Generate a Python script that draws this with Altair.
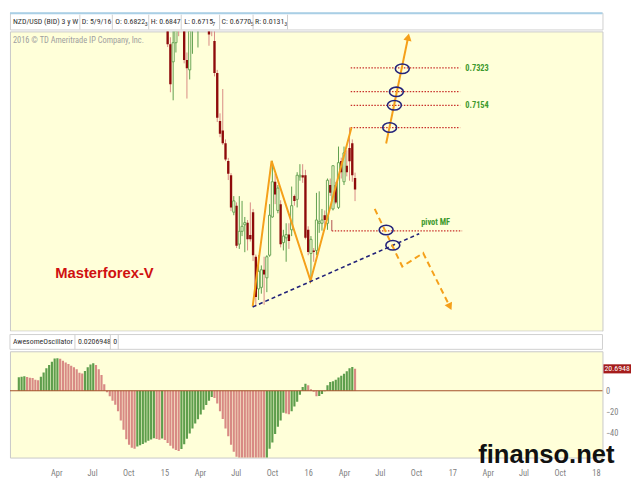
import altair as alt
import pandas as pd

# ---------------- data ----------------
HEADER_CELLS = ["NZD/USD (BID) 3 y W", "D: 5/9/16", "O: 0.6822", "H: 0.6847", "L: 0.6715", "C: 0.6770", "R: 0.0131"]
HEADER_SUBS = ["", "", "3", "", "7", "5", "3"]
OSC_CELLS = ["AwesomeOscillator", "0.0206948", "0"]

CANDLE_START = "2015-01-05"
OPEN = [0.783, 0.776, 0.775, 0.7438, 0.7357, 0.7445, 0.7560, 0.7520, 0.7600, 0.7365,
        0.7320, 0.7520, 0.7600, 0.7550, 0.7650, 0.7580, 0.7680, 0.7600, 0.7560, 0.7453,
        0.7306, 0.7085, 0.7041, 0.6982, 0.6901, 0.6835, 0.6665, 0.6695, 0.6518, 0.6577,
        0.6607, 0.6617, 0.6560, 0.6665, 0.6460, 0.6312, 0.6319, 0.6400, 0.6363, 0.6467,
        0.6643, 0.6805, 0.6673, 0.6702, 0.6525, 0.6547, 0.6562, 0.6584, 0.6739, 0.6724,
        0.6828, 0.6835, 0.6835, 0.6584, 0.6475, 0.6489, 0.6489, 0.6614, 0.6614, 0.6651,
        0.6614, 0.6790, 0.6680, 0.6790, 0.6687, 0.6901, 0.6805, 0.6879, 0.6960, 0.6982,
        0.6822]
HIGH = [0.790, 0.785, 0.781, 0.7470, 0.7550, 0.7600, 0.7700, 0.7650, 0.7650, 0.7400,
        0.7570, 0.7650, 0.7660, 0.7700, 0.7700, 0.7750, 0.7720, 0.7630, 0.7600, 0.7520,
        0.7320, 0.7120, 0.7232, 0.7000, 0.6915, 0.6845, 0.6739, 0.6710, 0.6739, 0.6717,
        0.6643, 0.6629, 0.6710, 0.6680, 0.6470, 0.6467, 0.6420, 0.6460, 0.6467, 0.6702,
        0.6901, 0.6842, 0.6790, 0.6720, 0.6584, 0.6614, 0.6614, 0.6783, 0.6746, 0.6849,
        0.6886, 0.6886, 0.6860, 0.6600, 0.6555, 0.6500, 0.6754, 0.6761, 0.6680, 0.6673,
        0.6820, 0.6820, 0.6879, 0.6805, 0.6967, 0.6916, 0.6967, 0.6950, 0.7055, 0.7000,
        0.6847]
LOW = [0.770, 0.768, 0.7425, 0.7217, 0.7180, 0.7400, 0.7475, 0.7505, 0.7350, 0.7188,
       0.7276, 0.7394, 0.7510, 0.7423, 0.7520, 0.7540, 0.7530, 0.7431, 0.7475, 0.7290,
       0.7080, 0.7010, 0.6975, 0.6900, 0.6813, 0.6670, 0.6651, 0.6500, 0.6496, 0.6555,
       0.6481, 0.6489, 0.6530, 0.6440, 0.6231, 0.6261, 0.6290, 0.6239, 0.6297, 0.6460,
       0.6640, 0.6702, 0.6660, 0.6503, 0.6489, 0.6437, 0.6496, 0.6555, 0.6695, 0.6687,
       0.6810, 0.6800, 0.6540, 0.6467, 0.6349, 0.6437, 0.6467, 0.6570, 0.6580, 0.6600,
       0.6584, 0.6740, 0.6673, 0.6702, 0.6680, 0.6820, 0.6790, 0.6830, 0.6810, 0.6805,
       0.6716]
CLOSE = [0.776, 0.780, 0.7438, 0.7254, 0.7445, 0.7560, 0.7520, 0.7600, 0.7365, 0.7328,
         0.7520, 0.7600, 0.7550, 0.7650, 0.7580, 0.7680, 0.7600, 0.7483, 0.7510, 0.7306,
         0.7100, 0.7026, 0.6982, 0.6908, 0.6842, 0.6687, 0.6717, 0.6511, 0.6577, 0.6600,
         0.6617, 0.6540, 0.6540, 0.6467, 0.6275, 0.6393, 0.6400, 0.6378, 0.6460, 0.6651,
         0.6805, 0.6746, 0.6776, 0.6518, 0.6555, 0.6562, 0.6533, 0.6695, 0.6717, 0.6835,
         0.6835, 0.6825, 0.6547, 0.6482, 0.6540, 0.6482, 0.6629, 0.6621, 0.6629, 0.6629,
         0.6812, 0.6754, 0.6879, 0.6710, 0.6893, 0.6849, 0.6938, 0.6849, 0.6900, 0.6835,
         0.6770]

AO_START = "2014-01-06"
AO = [12.7, 13.3, 13.6, 13.1, 12.2, 12.0, 10.4, 9.8, 13.3, 17.2,
      21.3, 24.3, 27.3, 30.5, 30.8, 30.2, 28.4, 26.7, 25.2, 23.7,
      22.2, 20.2, 16.9, 16.3, 18.7, 22.2, 24.9, 26.0, 24.3, 20.4,
      14.8, 6.2, -1.5, -5.3, -9.5, -13.3, -19.3, -28.1, -37.0, -45.9,
      -51.0, -54.0, -54.8, -52.7, -51.6, -50.4, -48.9, -47.4, -46.2, -45.0,
      -45.6, -46.3, -45.2, -46.5, -49.5, -52.0, -54.5, -56.0, -57.0, -55.0,
      -50.5, -45.5, -40.5, -35.6, -31.0, -27.0, -22.5, -18.0, -13.5, -9.5,
      -6.0, -6.8, -12.0, -19.3, -26.7, -35.6, -43.0, -51.0, -57.8, -62.5,
      -65.0, -67.0, -68.0, -69.0, -69.5, -70.0, -70.5, -71.0, -71.5, -72.0,
      -66.0, -54.8, -48.9, -40.9, -34.1, -28.1, -20.7, -21.5, -22.2, -19.3,
      -14.8, -10.4, -3.9, 3.6, 6.5, 5.3, 1.5, -1.0, -5.3, -5.0,
      -3.0, -0.6, 5.3, 8.3, 8.9, 10.4, 12.4, 14.2, 16.0, 18.4,
      21.3, 22.5, 20.6948]

ZIGZAG_DATES = ["2015-08-23", "2015-10-10", "2016-01-17", "2016-04-30"]
ZIGZAG_PRICES = [0.6231, 0.6901, 0.6349, 0.7055]
TREND_DATES = ["2015-08-23", "2016-10-19"]
TREND_PRICES = [0.6229, 0.6566]
LEVEL_PRICES = [0.7329, 0.7220, 0.7157, 0.7054]
LEVEL_SPAN = ["2016-04-28", "2017-01-31"]
PIVOT_PRICE = 0.6579
PIVOT_SPAN = ["2016-03-11", "2017-02-05"]
PIVOT_STEM = [0.6629, 0.6579]
LABEL_TEXTS = ["0.7323", "0.7154", "pivot MF"]
LABEL_DATES = ["2017-02-13", "2017-02-13", "2016-10-24"]
LABEL_PRICES = [0.7329, 0.7157, 0.6619]
UP_DATES = ["2016-07-27", "2016-09-21"]
UP_PRICES = [0.6981, 0.7471]
DOWN_DATES = ["2016-06-28", "2016-09-06", "2016-10-29", "2017-01-05"]
DOWN_PRICES = [0.6680, 0.6415, 0.6477, 0.6230]
HEAD_DATES = ["2016-09-21", "2017-01-05"]
HEAD_PRICES = [0.7471, 0.6230]
HEAD_ANGLES = [11.9, 153.4]
RING_DATES = ["2016-09-06", "2016-08-22", "2016-08-17", "2016-08-05", "2016-07-27", "2016-08-13"]
RING_PRICES = [0.7325, 0.7219, 0.7157, 0.7055, 0.6583, 0.6513]

# ---------------- layout / style ----------------
W = 602
H_HDR = 17
H_MAIN = 304
H_OHDR = 18
H_OSC = 108
BG = "#FFFFD9"
FONT = "Liberation Sans Narrow, Arial Narrow, Roboto Condensed, Roboto"
HFS = 8
ORANGE = "#F5A01A"
NAVY = "#23237A"
RED_BODY = "#8E0B0B"
RED_WICK = "#D88A84"
GREEN = "#5E9E4C"
DOTRED = "#C8302A"
LABGREEN = "#3E9A2E"

# approximate Arial widths (em) for placing the small trailing digits of the header cells
AW = {"O": .778, "H": .722, "L": .556, "C": .722, "R": .722, "D": .722, ":": .278, " ": .278,
      ".": .278, "/": .278}
def text_w(s, size):
    return sum(AW.get(ch, .556) for ch in s) * 0.82 * size

XSCALE = alt.Scale(type="utc",
                   domain=[alt.DateTime(year=2013, month=12, date=27, utc=True),
                           alt.DateTime(year=2018, month=1, date=15, utc=True)])
YMAIN = alt.Scale(domain=[0.612, 0.7497], nice=False, zero=False)
YOSC = alt.Scale(domain=[-63.2, 37.3], nice=False, zero=False)

one = pd.DataFrame({"a": [0]})

candles = pd.DataFrame({
    "date": pd.date_range(CANDLE_START, periods=len(OPEN), freq="7D").strftime("%Y-%m-%d"),
    "open": OPEN, "high": HIGH, "low": LOW, "close": CLOSE,
})
candles["dir"] = ["up" if c >= o else "down" for o, c in zip(OPEN, CLOSE)]

ao = pd.DataFrame({
    "date": pd.date_range(AO_START, periods=len(AO), freq="7D").strftime("%Y-%m-%d"),
    "ao": AO,
})
ao["dir"] = ["up" if i == 0 or AO[i] >= AO[i - 1] else "down" for i in range(len(AO))]

Xn = lambda f: alt.X(f, type="temporal", scale=XSCALE, axis=None)

# ---------------- header bar ----------------
HDR_X = [3, 73, 107, 143, 177, 215, 249]
HDR_SEP = [71, 104, 141, 174, 213, 247, 282]

hdr_layers = [
    alt.Chart(one).mark_rule(color="#A9CFE6", strokeWidth=2).encode(
        x=alt.value(0), x2=alt.value(W), y=alt.value(0.5))
]
for t, px, sub in zip(HEADER_CELLS, HDR_X, HEADER_SUBS):
    hdr_layers.append(alt.Chart(one).mark_text(align="left", baseline="middle", font=FONT,
                                               fontSize=HFS, color="#333").encode(
        x=alt.value(px), y=alt.value(9.5), text=alt.value(t)))
    if sub:
        hdr_layers.append(alt.Chart(one).mark_text(align="left", baseline="middle", font=FONT,
                                                   fontSize=6, color="#333").encode(
            x=alt.value(px + text_w(t, HFS) + 1.2), y=alt.value(11), text=alt.value(sub)))
for px in HDR_SEP:
    hdr_layers.append(alt.Chart(one).mark_rule(color="#CFCFCF").encode(
        x=alt.value(px), y=alt.value(2), y2=alt.value(H_HDR)))
header = alt.layer(*hdr_layers).properties(
    width=W, height=H_HDR, view=alt.ViewBackground(fill="white", stroke="#CFCFCF"))

# ---------------- main price panel ----------------
wicks = alt.Chart(candles).mark_rule(clip=True, strokeWidth=1).encode(
    x=Xn("date"),
    y=alt.Y("low:Q", scale=YMAIN,
            axis=alt.Axis(orient="right", values=[0.62, 0.64, 0.66, 0.68, 0.70, 0.72, 0.74],
                          format=".2~f", title=None, ticks=False, domain=False, grid=False,
                          labelPadding=3)),
    y2="high:Q",
    color=alt.Color("dir:N", scale=alt.Scale(domain=["up", "down"], range=[GREEN, RED_WICK]),
                    legend=None),
)
down_bodies = alt.Chart(candles).transform_filter("datum.dir == 'down'").mark_bar(
    clip=True, size=2.4, color=RED_BODY).encode(
    x=Xn("date"), y=alt.Y("open:Q", scale=YMAIN, axis=None), y2="close:Q")
up_bodies = alt.Chart(candles).transform_filter("datum.dir == 'up'").mark_bar(
    clip=True, size=2.2, fill=BG, stroke=GREEN, strokeWidth=0.9).encode(
    x=Xn("date"), y=alt.Y("open:Q", scale=YMAIN, axis=None), y2="close:Q")

levels_df = pd.DataFrame({"price": LEVEL_PRICES + [PIVOT_PRICE],
                          "start": [LEVEL_SPAN[0]] * 4 + [PIVOT_SPAN[0]],
                          "end": [LEVEL_SPAN[1]] * 4 + [PIVOT_SPAN[1]]})
levels = alt.Chart(levels_df).mark_rule(color=DOTRED, strokeWidth=1.3, strokeDash=[1.5, 1.5]).encode(
    x=Xn("start:T"), x2="end:T", y=alt.Y("price:Q", scale=YMAIN, axis=None))
stem = alt.Chart(pd.DataFrame({"d": [PIVOT_SPAN[0]], "p1": [PIVOT_STEM[0]], "p2": [PIVOT_STEM[1]]})
                 ).mark_rule(color="#B05050", strokeWidth=1).encode(
    x=Xn("d:T"), y=alt.Y("p1:Q", scale=YMAIN, axis=None), y2="p2:Q")

def path(dates, prices, **kw):
    df = pd.DataFrame({"d": dates, "p": prices, "o": list(range(len(dates)))})
    return alt.Chart(df).mark_line(**kw).encode(
        x=Xn("d:T"), y=alt.Y("p:Q", scale=YMAIN, axis=None), order="o:Q")

zigzag = path(ZIGZAG_DATES, ZIGZAG_PRICES, color=ORANGE, strokeWidth=2, clip=True)
trend = path(TREND_DATES, TREND_PRICES, color=NAVY, strokeWidth=1.6, strokeDash=[4, 3])
down_path = path(DOWN_DATES, DOWN_PRICES, color=ORANGE, strokeWidth=2, strokeDash=[6, 4])
up_arrow = path(UP_DATES, UP_PRICES, color=ORANGE, strokeWidth=2)
heads = alt.Chart(pd.DataFrame({"d": HEAD_DATES, "p": HEAD_PRICES, "ang": HEAD_ANGLES})).mark_point(
    shape="triangle-up", filled=True, size=70, color=ORANGE, opacity=1).encode(
    x=Xn("d:T"), y=alt.Y("p:Q", scale=YMAIN, axis=None), angle=alt.Angle("ang:Q", scale=None))
ELLIPSE = "M -1 0 A 1 0.68 0 1 1 1 0 A 1 0.68 0 1 1 -1 0 Z"
rings = alt.Chart(pd.DataFrame({"d": RING_DATES, "p": RING_PRICES})).mark_point(
    shape=ELLIPSE, size=200, filled=False, stroke=NAVY, strokeWidth=1.6, opacity=1).encode(
    x=Xn("d:T"), y=alt.Y("p:Q", scale=YMAIN, axis=None))
labels = alt.Chart(pd.DataFrame({"d": LABEL_DATES, "p": LABEL_PRICES, "t": LABEL_TEXTS})).mark_text(
    align="left", baseline="middle", font=FONT, fontSize=8.5, fontWeight="bold", color=LABGREEN).encode(
    x=Xn("d:T"), y=alt.Y("p:Q", scale=YMAIN, axis=None), text="t:N")
copyright_txt = alt.Chart(one).mark_text(align="left", baseline="middle", font=FONT, fontSize=8.5,
                                         color="#A0A0A0").encode(
    x=alt.value(3), y=alt.value(9), text=alt.value("2016 © TD Ameritrade IP Company, Inc."))
brand = alt.Chart(one).mark_text(align="center", baseline="middle",
                                 font="Liberation Sans Narrow, Arial Narrow, Liberation Sans",
                                 fontSize=15, fontWeight="bold", color="#D01010").encode(
    x=alt.value(96), y=alt.value(246), text=alt.value("Masterforex-V"))

main = alt.layer(levels, stem, wicks, down_bodies, up_bodies, zigzag, trend, down_path,
                 up_arrow, heads, rings, labels, copyright_txt, brand).properties(
    width=W, height=H_MAIN, view=alt.ViewBackground(fill=BG, stroke="#C8C8C8"))

# ---------------- oscillator header ----------------
OHDR_X = [3, 69, 105]
OHDR_SEP = [66, 102, 110]
oh_layers = [alt.Chart(one).mark_rect(fill="white", stroke="#CFCFCF").encode(
    x=alt.value(0), x2=alt.value(W), y=alt.value(3), y2=alt.value(H_OHDR))]
for t, px in zip(OSC_CELLS, OHDR_X):
    oh_layers.append(alt.Chart(one).mark_text(align="left", baseline="middle", font=FONT,
                                              fontSize=HFS, color="#333").encode(
        x=alt.value(px), y=alt.value(10.5), text=alt.value(t)))
for px in OHDR_SEP:
    oh_layers.append(alt.Chart(one).mark_rule(color="#CFCFCF").encode(
        x=alt.value(px), y=alt.value(3), y2=alt.value(H_OHDR)))
osc_header = alt.layer(*oh_layers).properties(
    width=W, height=H_OHDR, view=alt.ViewBackground(fill="white", stroke=None))

# ---------------- oscillator ----------------
LABEL_EXPR = ("utcFormat(datum.value, '%m') == '01' ? utcFormat(datum.value, '%y')"
              " : utcFormat(datum.value, '%b')")
tick_dates = [alt.DateTime(year=y, month=m, date=1, utc=True)
              for y in (2014, 2015, 2016, 2017, 2018) for m in (1, 4, 7, 10)
              if (y, m) != (2014, 1) and not (y == 2018 and m > 1)]
bars = alt.Chart(ao).mark_bar(clip=True, size=2.2).encode(
    x=alt.X("date:T", scale=XSCALE,
            axis=alt.Axis(values=tick_dates, labelExpr=LABEL_EXPR, title=None, ticks=False,
                          domain=False, grid=False, labelPadding=11, labelOffset=4)),
    y=alt.Y("ao:Q", scale=YOSC,
            axis=alt.Axis(orient="right", values=[-40, -20, 0], title=None, ticks=False,
                          domain=False, grid=False, labelPadding=3)),
    color=alt.Color("dir:N", scale=alt.Scale(domain=["up", "down"], range=["#2F7F2F", "#A8231C"]),
                    legend=None),
)
zero = alt.Chart(one).mark_rule(color="#A4502A", strokeWidth=1.2).encode(
    y=alt.datum(0, scale=YOSC))
AO_LAST = AO[-1]
tag = alt.Chart(one).mark_rect(color="#A51C1C").encode(
    x=alt.value(W + 1), x2=alt.value(W + 29),
    y=alt.datum(AO_LAST + 4.3), y2=alt.datum(AO_LAST - 4.3))
tag_text = alt.Chart(one).mark_text(align="left", baseline="middle", font=FONT, fontSize=8,
                                    color="white").encode(
    x=alt.value(W + 2), y=alt.datum(AO_LAST), text=alt.value(f"{AO_LAST:.4f}"))
watermark = alt.Chart(one).mark_text(align="center", baseline="alphabetic", font="Liberation Sans",
                                     fontSize=26, fontWeight="bold", color="#111").encode(
    x=alt.value(545), y=alt.value(113), text=alt.value("finanso.net"))

osc = alt.layer(bars, zero, tag, tag_text, watermark).properties(
    width=W, height=H_OSC, view=alt.ViewBackground(fill=BG, stroke="#C8C8C8"))

chart = alt.vconcat(header, main, osc_header, osc, spacing=0).properties(
    padding={"left": 0, "top": 0, "right": 0, "bottom": 0}
).configure_axis(
    labelFont=FONT, labelFontSize=8.5, labelColor="#808080"
)

chart.save("out.html", embed_options={"renderer": "svg", "actions": False})
